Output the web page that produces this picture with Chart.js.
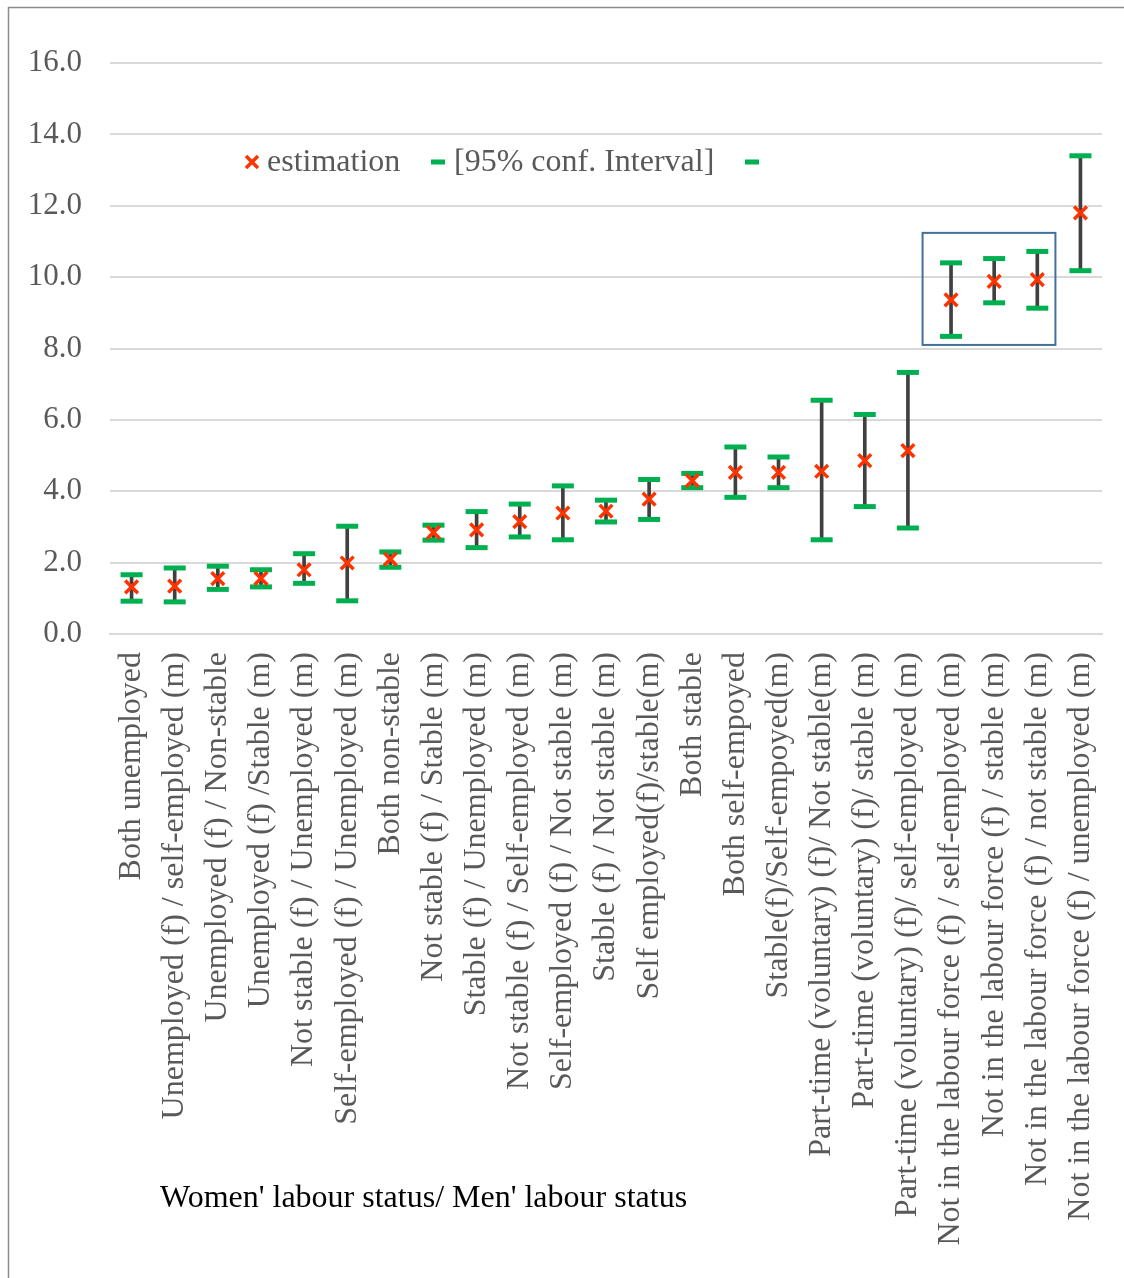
<!DOCTYPE html>
<html>
<head>
<meta charset="utf-8">
<script src="https://cdn.jsdelivr.net/npm/chart.js@4.4.1/dist/chart.umd.min.js"></script>
<style>
  html, body { margin: 0; padding: 0; background: #ffffff; }
  #wrap { width: 1124px; height: 1278px; position: relative; }
</style>
</head>
<body>
<div id="wrap"><canvas id="grafico" width="1124" height="1278"></canvas></div>
<script>
// Categorias (mulher / homem)
const categorias = [
  'Both unemployed',
  'Unemployed (f) / self-employed (m)',
  'Unemployed (f) / Non-stable',
  'Unemployed (f) /Stable (m)',
  'Not stable (f) / Unemployed (m)',
  'Self-employed (f) / Unemployed (m)',
  'Both non-stable',
  'Not stable (f) / Stable (m)',
  'Stable (f) / Unemployed (m)',
  'Not stable (f) / Self-employed (m)',
  'Self-employed (f) / Not stable (m)',
  'Stable (f) / Not stable (m)',
  'Self employed(f)/stable(m)',
  'Both stable',
  'Both self-empoyed',
  'Stable(f)/Self-empoyed(m)',
  'Part-time (voluntary) (f)/ Not stable(m)',
  'Part-time (voluntary) (f)/ stable (m)',
  'Part-time (voluntary) (f)/ self-employed (m)',
  'Not in the labour force (f) / self-employed (m)',
  'Not in the labour force (f) / stable (m)',
  'Not in the labour force (f) / not stable (m)',
  'Not in the labour force (f) / unemployed (m)'
];

// Estimativas e intervalo de confiança 95%
const estimativa = [1.32, 1.34, 1.55, 1.56, 1.80, 1.99, 2.10, 2.85, 2.92, 3.15, 3.39, 3.44, 3.78, 4.30, 4.53, 4.53, 4.56, 4.86, 5.14, 9.36, 9.88, 9.93, 11.80];
const limiteSuperior = [1.66, 1.85, 1.90, 1.80, 2.25, 3.02, 2.30, 3.05, 3.43, 3.64, 4.15, 3.75, 4.33, 4.50, 5.24, 4.96, 6.55, 6.15, 7.33, 10.40, 10.52, 10.72, 13.40];
const limiteInferior = [0.92, 0.90, 1.25, 1.32, 1.42, 0.93, 1.87, 2.63, 2.42, 2.72, 2.64, 3.14, 3.21, 4.10, 3.83, 4.10, 2.64, 3.57, 2.97, 8.34, 9.28, 9.13, 10.18];

// Eixo Y
const marcasY = [0, 2, 4, 6, 8, 10, 12, 14, 16];

// Destaque (caixa azul) em coordenadas dos eixos
const destaque = { de: 18.34, ate: 21.42, min: 8.1, max: 11.24 };

const fonte = '"Liberation Serif", "Times New Roman", serif';

// Intervalo como barra flutuante fina
const intervalos = limiteInferior.map((v, i) => [v, limiteSuperior[i]]);

// Moldura externa
const moldura = {
  id: 'moldura',
  beforeDraw(chart) {
    const ctx = chart.ctx;
    ctx.save();
    ctx.strokeStyle = '#8c8c8c';
    ctx.lineWidth = 1.5;
    ctx.strokeRect(8.5, 7.5, 1130, 1290);
    ctx.restore();
  }
};

// Caixa azul + legenda + título do eixo
const extras = {
  id: 'extras',
  afterDatasetsDraw(chart) {
    const ctx = chart.ctx;
    const x = chart.scales.x, y = chart.scales.y;
    ctx.save();
    ctx.strokeStyle = '#41719c';
    ctx.lineWidth = 2;
    const x0 = x.getPixelForValue(destaque.de), x1 = x.getPixelForValue(destaque.ate);
    const y0 = y.getPixelForValue(destaque.max), y1 = y.getPixelForValue(destaque.min);
    ctx.strokeRect(x0, y0, x1 - x0, y1 - y0);
    ctx.restore();
  },
  afterDraw(chart) {
    const ctx = chart.ctx;
    ctx.save();
    // legenda
    const ly = 162;
    ctx.strokeStyle = '#ff3300';
    ctx.lineWidth = 3.5;
    ctx.beginPath();
    ctx.moveTo(246, ly - 6); ctx.lineTo(258, ly + 6);
    ctx.moveTo(258, ly - 6); ctx.lineTo(246, ly + 6);
    ctx.stroke();
    ctx.strokeStyle = '#00b050';
    ctx.lineWidth = 5;
    ctx.beginPath();
    ctx.moveTo(431, ly); ctx.lineTo(445, ly);
    ctx.moveTo(745, ly); ctx.lineTo(759, ly);
    ctx.stroke();
    ctx.fillStyle = '#595959';
    ctx.font = '32px ' + fonte;
    ctx.textBaseline = 'middle';
    ctx.fillText(chart.data.datasets[0].label, 267, ly + 1);
    ctx.fillText(chart.data.datasets[1].label, 454, ly + 1);
    // título do eixo X
    ctx.fillStyle = '#000000';
    ctx.font = '32px ' + fonte;
    ctx.textBaseline = 'alphabetic';
    ctx.fillText("Women' labour status/ Men' labour status", 160, 1207);
    ctx.restore();
  }
};

const data = {
  labels: categorias,
  datasets: [
    {
      type: 'scatter',
      label: 'estimation',
      data: estimativa,
      pointStyle: 'crossRot',
      radius: 9,
      borderWidth: 3.5,
      borderColor: '#ff3300',
      backgroundColor: '#ff3300',
      order: 0
    },
    {
      type: 'scatter',
      label: '[95% conf. Interval]',
      data: limiteSuperior,
      pointStyle: 'line',
      radius: 11,
      borderWidth: 5,
      borderColor: '#00b050',
      order: 1
    },
    {
      type: 'scatter',
      label: '',
      data: limiteInferior,
      pointStyle: 'line',
      radius: 11,
      borderWidth: 5,
      borderColor: '#00b050',
      order: 1
    },
    {
      type: 'bar',
      label: 'intervalo',
      data: intervalos,
      backgroundColor: '#404040',
      barThickness: 3,
      order: 2
    }
  ]
};

const config = {
  type: 'bar',
  data: data,
  options: {
    responsive: false,
    animation: false,
    layout: { padding: { left: 10, right: 22, top: 63, bottom: 0 } },
    plugins: {
      legend: { display: false },
      tooltip: { enabled: false }
    },
    scales: {
      x: {
        type: 'category',
        offset: true,
        grid: { display: false, drawTicks: false },
        border: { color: '#d9d9d9', width: 2 },
        ticks: {
          color: '#595959',
          font: { family: fonte, size: 32 },
          minRotation: 90,
          maxRotation: 90,
          autoSkip: false,
          padding: 18
        },
        afterFit(scale) {
          scale.height = 644;
          scale.paddingLeft = 0;
          scale.paddingRight = 0;
        }
      },
      y: {
        min: 0,
        max: 16,
        afterBuildTicks(scale) { scale.ticks = marcasY.map(v => ({ value: v })); },
        grid: { color: '#d9d9d9', lineWidth: 2, drawTicks: false },
        border: { display: false },
        ticks: {
          color: '#595959',
          font: { family: fonte, size: 31 },
          padding: 28,
          callback: v => Number(v).toFixed(1)
        },
        afterFit(scale) { scale.width = 100; }
      }
    }
  },
  plugins: [moldura, extras]
};

window.onload = function () {
  const ctx = document.getElementById('grafico').getContext('2d');
  new Chart(ctx, config);
};
</script>
</body>
</html>
